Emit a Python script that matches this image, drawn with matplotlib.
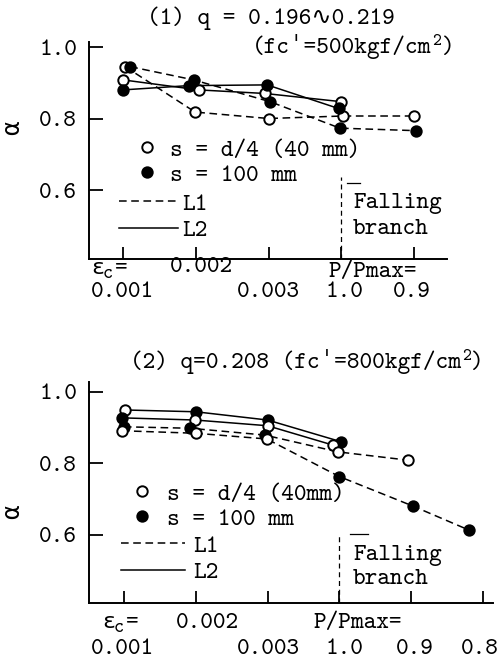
import matplotlib
matplotlib.use("Agg")
import matplotlib.pyplot as plt
from matplotlib.lines import Line2D

W, H = 498, 665
MONO = ['cmtt10', 'DejaVu Sans Mono', 'DejaVu Sans']
FS = 17.4
DASH = (0, (5, 3))

# ---- panel (1): q = 0.196~0.219, fc'=500 ----
# each series: x positions (tick index), alpha values, marker fill per point (o=open, f=filled)
p1_l1a_x = [0.03, 0.99, 2.00, 3.02, 4.00]
p1_l1a_y = [0.945, 0.818, 0.800, 0.807, 0.807]
p1_l1a_m = "ooooo"
p1_l1b_x = [0.10, 0.97, 2.02, 2.98, 4.02]
p1_l1b_y = [0.945, 0.908, 0.847, 0.773, 0.766]
p1_l1b_m = "fffff"
p1_l2a_x = [0.00, 1.04, 1.95, 3.00]
p1_l2a_y = [0.908, 0.880, 0.870, 0.847]
p1_l2a_m = "oooo"
p1_l2b_x = [0.00, 0.90, 1.98, 2.96]
p1_l2b_y = [0.880, 0.892, 0.894, 0.828]
p1_l2b_m = "ffff"
p1_ticklabels_row1 = ["0.002", "P/Pmax="]
p1_ticklabels_row2 = ["0.001", "0.003", "1.0", "0.9"]

# ---- panel (2): q = 0.208, fc'=800 ----
p2_l2a_x = [0.02, 1.00, 2.00, 3.03]
p2_l2a_y = [0.949, 0.944, 0.921, 0.860]
p2_l2a_m = "offf"
p2_l2b_x = [-0.03, 0.99, 2.00, 2.91]
p2_l2b_y = [0.927, 0.921, 0.905, 0.851]
p2_l2b_m = "fooo"
p2_l1a_x = [0.00, 0.92, 1.96, 2.98, 3.95]
p2_l1a_y = [0.902, 0.898, 0.879, 0.832, 0.809]
p2_l1a_m = "fffoo"
p2_l1b_x = [-0.03, 1.00, 1.99, 3.00, 4.02, 4.80]
p2_l1b_y = [0.891, 0.884, 0.868, 0.763, 0.681, 0.614]
p2_l1b_m = "ooofff"
p2_ticklabels_row1 = ["0.002", "P/Pmax="]
p2_ticklabels_row2 = ["0.001", "0.003", "1.0", "0.9", "0.8"]

yticks = [0.6, 0.8, 1.0]


def fpos(x, y):
    return x / W, 1 - y / H


def ftext(x, y, s, ha='left', va='center', size=FS, **kw):
    return fig.text(*fpos(x, y), s, ha=ha, va=va, fontsize=size, family=MONO, **kw)


def sup_text(x, y, before, sup, after):
    # text with a raised small part, e.g. cm^2
    t1 = ftext(x, y, before, va='bottom')
    plt.annotate(sup, xy=(1, 0), xycoords=t1, xytext=(0.5, 7.5), textcoords='offset points',
                 fontsize=FS * 0.7, family=MONO, va='bottom', ha='left')
    plt.annotate(after, xy=(1, 0), xycoords=t1, xytext=(FS * 0.7 * 0.525 + 1, 0),
                 textcoords='offset points', fontsize=FS, family=MONO,
                 va='bottom', ha='left')


def draw_series(ax, xs, ys, marks, ls):
    ax.plot(xs, ys, color='black', lw=1.1, ls=ls, zorder=2)
    for x, y, m in zip(xs, ys, marks):
        ax.plot(x, y, 'o', ms=7.5, mec='black', mew=1.4,
                mfc='black' if m == 'f' else 'white', zorder=3)


def style_axes(ax, nticks):
    for s in ['top', 'right']:
        ax.spines[s].set_visible(False)
    for s in ['left', 'bottom']:
        ax.spines[s].set_linewidth(1.4)
    ax.set_xticks(range(nticks))
    ax.set_yticks(yticks)
    ax.set_yticklabels([f"{v:.1f}" for v in yticks], family=MONO, fontsize=FS)
    ax.tick_params(axis='x', direction='in', length=8.6, width=1.3, labelbottom=False)
    ax.tick_params(axis='y', direction='in', length=10, width=1.3, pad=8.6)


def add_legends(ax, mk_x, mk_y, mk_pad, labels, ln_x, ln_y, ln_len, ln_pad):
    em = FS * 100 / 72
    mk_handles = [Line2D([], [], ls='none', marker='o', ms=7.5, mec='black', mew=1.4, mfc=c)
                  for c in ['white', 'black']]
    leg1 = ax.legend(mk_handles, labels, loc='upper left',
                     bbox_to_anchor=fpos(mk_x, mk_y), bbox_transform=fig.transFigure,
                     frameon=False, borderpad=0, borderaxespad=0, handlelength=20.8 / em,
                     handletextpad=mk_pad / em, labelspacing=0.08,
                     prop={'family': MONO, 'size': FS})
    ax.add_artist(leg1)
    ln_handles = [Line2D([], [], color='black', lw=1.1, ls=DASH),
                  Line2D([], [], color='black', lw=1.1, ls='-')]
    ax.legend(ln_handles, ["L1", "L2"], loc='upper left',
              bbox_to_anchor=fpos(ln_x, ln_y), bbox_transform=fig.transFigure,
              frameon=False, borderpad=0, borderaxespad=0, handlelength=ln_len / em,
              handletextpad=ln_pad / em, labelspacing=0.15,
              prop={'family': MONO, 'size': FS})


fig = plt.figure(figsize=(W / 100, H / 100), dpi=100)

# panel 1
ax1 = fig.add_axes([89 / W, 1 - 259 / H, (447 - 89) / W, (259 - 42) / H])
ax1.set_xlim(-0.467, 4.45)
ax1.set_ylim(0.407, 1.014)
style_axes(ax1, 5)
draw_series(ax1, p1_l1a_x, p1_l1a_y, p1_l1a_m, DASH)
draw_series(ax1, p1_l1b_x, p1_l1b_y, p1_l1b_m, DASH)
draw_series(ax1, p1_l2a_x, p1_l2a_y, p1_l2a_m, '-')
draw_series(ax1, p1_l2b_x, p1_l2b_y, p1_l2b_m, '-')
ax1.axvline(3, ymin=0, ymax=0.378, color='black', lw=0.9, ls=(0, (4, 3)))
add_legends(ax1, 136.6, 139, 12.6, ["s = d/4 (40 mm)", "s = 100 mm"],
            119, 193, 59, 4)

# panel 2
ax2 = fig.add_axes([89 / W, 1 - 603.3 / H, (493 - 89) / W, (603.3 - 381.7) / H])
ax2.set_xlim(-0.486, 5.14)
ax2.set_ylim(0.409, 1.028)
style_axes(ax2, 6)
draw_series(ax2, p2_l2a_x, p2_l2a_y, p2_l2a_m, '-')
draw_series(ax2, p2_l2b_x, p2_l2b_y, p2_l2b_m, '-')
draw_series(ax2, p2_l1a_x, p2_l1a_y, p2_l1a_m, DASH)
draw_series(ax2, p2_l1b_x, p2_l1b_y, p2_l1b_m, DASH)
ax2.axvline(3, ymin=0, ymax=0.317, color='black', lw=0.9, ls=(0, (4, 3)))
add_legends(ax2, 131.6, 483, 14.6, ["s = d/4 (40mm)", "s = 100 mm"],
            121, 535, 64, 8)

# titles
ftext(147, 18, "(1) q = 0.196\u223f0.219")
sup_text(252, 59, "(fc\u02c8=500kgf/cm", "2", ")")
sup_text(130, 374, "(2) q=0.208 (fc\u02c8=800kgf/cm", "2", ")")

# y labels
ftext(15, 128, "\u03b1", ha='center', rotation=90)
ftext(15, 512, "\u03b1", ha='center', rotation=90)

# falling branch notes
for (x0, x1, y), (tx, ty1, ty2) in [((347, 360, 183), (353, 203, 229)),
                                     ((350, 368, 534), (353, 555, 580))]:
    fig.add_artist(Line2D([x0 / W, x1 / W], [1 - y / H, 1 - y / H],
                          color='black', lw=0.9))
    ftext(tx, ty1, "Falling")
    ftext(tx, ty2, "branch")

# x labels, panel 1
ftext(91, 269, "\u03b5", size=FS * 0.9)
ftext(103, 275, "c", size=FS * 0.8)
ftext(114, 269, "=")
ftext(201, 267, p1_ticklabels_row1[0], ha='center')
ftext(328, 273, p1_ticklabels_row1[1])
for cx, lab in zip([122, 268, 345, 412], p1_ticklabels_row2):
    ftext(cx, 293, lab, ha='center')

# x labels, panel 2
ftext(102, 623, "\u03b5", size=FS * 0.9)
ftext(114, 629, "c", size=FS * 0.8)
ftext(125, 623, "=")
ftext(207, 623, p2_ticklabels_row1[0], ha='center')
ftext(313, 624, p2_ticklabels_row1[1])
for cx, lab in zip([122, 268, 345, 415, 480], p2_ticklabels_row2):
    ftext(cx, 650, lab, ha='center')

fig.savefig("out.png", dpi=100)
